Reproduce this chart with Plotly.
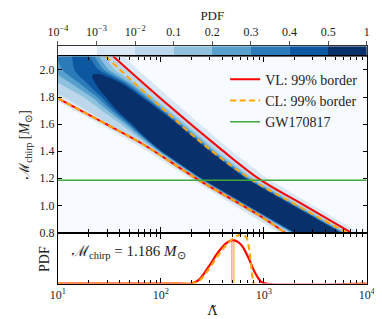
import numpy as np
import plotly.graph_objects as go

# ---------------- data ----------------
# colour levels of the 2-D PDF (colour bar)
pdf_levels = [1e-4, 1e-3, 1e-2, 0.1, 0.2, 0.3, 0.4, 0.5, 1.0]
pdf_level_labels = ["10<sup>−4</sup>", "10<sup>−3</sup>", "10<sup>−2</sup>", "0.1", "0.2",
                    "0.3", "0.4", "0.5", "1"]
band_colors = ["#f7fbff", "#dae8f5", "#bcd7eb", "#8dc1dd", "#57a0ce", "#2c7bb9", "#0d57a1", "#08306b"]

# ridge of the 2-D posterior, one entry per chirp-mass row
ridge_mchirp = [0.75, 0.80, 1.00, 1.20, 1.40, 1.60, 1.80, 1.90, 2.00, 2.10, 2.15]
ridge_peak_lambda = [4169, 3177, 1035, 345, 154, 95, 49.9, 35.7, 20.9, 18.2, 17.0]
ridge_peak_pdf = [10, 10, 10, 10, 10, 2.5, 0.90, 0.62, 0.46, 0.43, 0.42]
ridge_low_lambda = [1820, 1393, 513, 191, 74.1, 25.7, 8.3, 3.55, 1.78, 1.41, 1.32]     # PDF = 1e-3, low side
ridge_high_lambda = [10715, 8375, 3006, 1072, 490, 240, 120, 85, 60, 44, 38]          # PDF = 1e-3, high side

# 99 % borders
vl_upper_mchirp = [2.101, 1.733, 1.421, 1.186, 0.999, 0.801]
vl_upper_lambda = [34.4, 121, 375, 938, 2500, 6970]
vl_lower_mchirp = [1.791, 1.625, 1.457, 1.186, 0.940, 0.800]
vl_lower_lambda = [10.0, 25.5, 65.3, 234, 843, 1600]
cl_upper_mchirp = [2.101, 1.733, 1.421, 1.186, 0.999, 0.801]
cl_upper_lambda = [29.0, 97.7, 290, 774, 2109, 6252]
cl_lower_mchirp = [1.791, 1.625, 1.457, 1.186, 0.940, 0.800]
cl_lower_lambda = [10.0, 25.5, 65.3, 234, 843, 1600]

gw_mchirp = 1.186

# slice PDFs at Mchirp = 1.186 (bottom panel)
vl_slice_lambda = [10, 150, 198, 234, 290, 360, 430, 500, 560, 612, 706, 813, 938, 1045, 10000]
vl_slice_pdf = [0, 0, 0.0, 0.073, 0.335, 0.63, 0.81, 0.876, 0.84, 0.763, 0.53, 0.237, 0.04, 0.0, 0]
cl_slice_lambda = [10, 150, 200, 234, 290, 360, 430, 513, 575, 616, 676, 720, 750, 776, 804, 10000]
cl_slice_pdf = [0, 0, 0.0, 0.05, 0.28, 0.57, 0.77, 0.92, 0.98, 0.99, 0.93, 0.70, 0.40, 0.12, 0.0, 0]
vl_median_lambda = 490
vl_median_pdf = 0.87
cl_median_lambda = 513
cl_median_pdf = 0.89

# ---------------- build the 2-D field from the ridge description ----------------
lx = np.linspace(1.0, 4.0, 361)
my = np.linspace(0.8, 2.1, 261)
fine_m = np.linspace(0.7, 2.2, 301)


def smooth_param(vals, log=False):
    v = np.log10(np.asarray(vals, float)) if log else np.asarray(vals, float)
    f = np.interp(fine_m, ridge_mchirp, v)
    k = 9
    fp = np.pad(f, k // 2, mode="edge")
    f = np.convolve(fp, np.ones(k) / k, mode="valid")
    return np.interp(my, fine_m, f)


mu = smooth_param(ridge_peak_lambda, log=True)
amp = 10 ** smooth_param(ridge_peak_pdf, log=True)
lo = smooth_param(ridge_low_lambda, log=True)
hi = smooth_param(ridge_high_lambda, log=True)
q = np.sqrt(np.log(amp / 1e-3))
sl = (mu - lo) / q
sr = (hi - mu) / q
X = lx[None, :]
d = X - mu[:, None]
s = np.where(d < 0, sl[:, None], sr[:, None])
Z = amp[:, None] * np.exp(-(d / s) ** 2)
band = np.interp(np.log10(np.clip(Z, 1e-9, None)), np.log10(pdf_levels), np.arange(len(pdf_levels)))

step_scale = []
for i, c in enumerate(band_colors):
    step_scale.append([i / 8, c])
    step_scale.append([(i + 1) / 8, c])

# ---------------- figure ----------------
W, H = 382, 319
xdom = [42 / W, 367 / W]
FONT = "Liberation Serif"
RED = "#ff0000"
ORANGE = "#ffa500"
GREEN = "#3fa83f"
TXT = "#222"

fig = go.Figure()

# colour bar drawn as a heatmap strip
fig.add_trace(go.Heatmap(x=[i + 0.5 for i in range(8)], y=[0.5], z=[[i + 0.5 for i in range(8)]],
                         zmin=0, zmax=8, colorscale=step_scale, showscale=False,
                         xaxis="x", yaxis="y", hoverinfo="skip"))

# 2-D PDF
fig.add_trace(go.Contour(x=10 ** lx, y=my, z=band, zmin=0, zmax=8, colorscale=step_scale,
                         autocontour=False,
                         contours=dict(start=1, end=7, size=1, coloring="fill", showlines=False),
                         line=dict(width=0), showscale=False, xaxis="x2", yaxis="y2",
                         hoverinfo="skip"))

DASH = "6px,3.5px"
fig.add_trace(go.Scatter(x=vl_upper_lambda, y=vl_upper_mchirp, mode="lines", line_shape="spline",
                         line=dict(color=RED, width=2), name="VL: 99% border",
                         xaxis="x2", yaxis="y2", legendrank=1))
fig.add_trace(go.Scatter(x=vl_lower_lambda, y=vl_lower_mchirp, mode="lines", line_shape="spline",
                         line=dict(color=RED, width=2), showlegend=False,
                         xaxis="x2", yaxis="y2"))
fig.add_trace(go.Scatter(x=cl_upper_lambda, y=cl_upper_mchirp, mode="lines", line_shape="spline",
                         line=dict(color=ORANGE, width=2, dash=DASH), name="CL: 99% border",
                         xaxis="x2", yaxis="y2", legendrank=2))
fig.add_trace(go.Scatter(x=cl_lower_lambda, y=cl_lower_mchirp, mode="lines", line_shape="spline",
                         line=dict(color=ORANGE, width=2, dash=DASH), showlegend=False,
                         xaxis="x2", yaxis="y2"))
fig.add_trace(go.Scatter(x=[10, 10000], y=[gw_mchirp, gw_mchirp], mode="lines",
                         line=dict(color=GREEN, width=1.5), name="GW170817",
                         xaxis="x2", yaxis="y2", legendrank=3))

# bottom panel
fig.add_trace(go.Scatter(x=[vl_median_lambda, vl_median_lambda], y=[0, vl_median_pdf], mode="lines",
                         line=dict(color="rgba(255,0,0,0.55)", width=1), showlegend=False,
                         xaxis="x3", yaxis="y3"))
fig.add_trace(go.Scatter(x=[cl_median_lambda, cl_median_lambda], y=[0, cl_median_pdf], mode="lines",
                         line=dict(color=ORANGE, width=1), showlegend=False,
                         xaxis="x3", yaxis="y3"))
fig.add_trace(go.Scatter(x=vl_slice_lambda, y=vl_slice_pdf, mode="lines", line_shape="spline",
                         line=dict(color=RED, width=2.2), showlegend=False,
                         xaxis="x3", yaxis="y3"))
fig.add_trace(go.Scatter(x=cl_slice_lambda, y=cl_slice_pdf, mode="lines", line_shape="spline",
                         line=dict(color=ORANGE, width=2.2, dash=DASH), showlegend=False,
                         xaxis="x3", yaxis="y3"))

tickfont = dict(family=FONT, size=12, color=TXT)
axis_common = dict(showline=True, linecolor="black", linewidth=1.2, mirror="ticks",
                   ticks="inside", tickcolor="black", showgrid=False, zeroline=False,
                   tickfont=tickfont)

fig.update_layout(
    width=W, height=H, margin=dict(l=0, r=0, t=0, b=0),
    paper_bgcolor="white", plot_bgcolor="white",
    font=dict(family=FONT, size=12, color=TXT),
    showlegend=True,
    legend=dict(x=218 / W, y=1 - 57 / H, xanchor="left", yanchor="top",
                bgcolor="rgba(0,0,0,0)", font=dict(family=FONT, size=14, color=TXT),
                tracegroupgap=0, itemwidth=30),
    xaxis=dict(domain=xdom, anchor="y", range=[0, 8], side="top",
               tickvals=list(range(9)), ticktext=pdf_level_labels,
               ticks="outside", ticklen=4, tickcolor="#555", showline=True, mirror=True,
               linecolor="#333", linewidth=1, showgrid=False, zeroline=False, tickfont=tickfont,
               title=dict(text="PDF", font=dict(family=FONT, size=13, color=TXT), standoff=2)),
    yaxis=dict(domain=[1 - 49 / H, 1 - 39 / H], anchor="x", range=[0, 1], showticklabels=False,
               ticks="", showline=True, mirror=True, linecolor="#333", linewidth=1,
               showgrid=False, zeroline=False),
    xaxis2=dict(domain=xdom, anchor="y2", type="log", range=[1, 4], showticklabels=False,
                ticklen=5, dtick=1,
                minor=dict(ticks="inside", ticklen=3, dtick="D1", tickcolor="black", showgrid=False),
                **axis_common),
    yaxis2=dict(domain=[1 - 229.5 / H, 1 - 49.5 / H], anchor="x2", range=[0.8, 2.1],
                tickvals=[0.8, 1.0, 1.2, 1.4, 1.6, 1.8, 2.0],
                ticktext=["0.8", "1.0", "1.2", "1.4", "1.6", "1.8", "2.0"], ticklen=4,
                title=dict(text="ℳ<sub>chirp</sub> [<i>M</i><sub>⊙</sub>]",
                           font=dict(family=FONT, size=14, color=TXT), standoff=6),
                **axis_common),
    xaxis3=dict(domain=xdom, anchor="y3", type="log", range=[1, 4],
                tickvals=[10, 100, 1000, 10000],
                ticktext=["10<sup>1</sup>", "10<sup>2</sup>", "10<sup>3</sup>", "10<sup>4</sup>"],
                ticklen=5,
                minor=dict(ticks="inside", ticklen=3, dtick="D1", tickcolor="black", showgrid=False),
                title=dict(text="Λ̃", font=dict(family="DejaVu Serif", size=13, color=TXT), standoff=4),
                **axis_common),
    yaxis3=dict(domain=[1 - 281.7 / H, 1 - 231 / H], anchor="x3", range=[0, 1.0],
                showticklabels=False, showline=True, linecolor="black", linewidth=1.2, mirror=True,
                ticks="", showgrid=False, zeroline=False),
    annotations=[
        dict(text="ℳ<sub>chirp</sub> = 1.186 <i>M</i><sub>⊙</sub>", xref="paper", yref="paper",
             x=54 / W, y=1 - 249 / H, xanchor="left", yanchor="middle", showarrow=False,
             font=dict(family=FONT, size=15, color=TXT)),
        dict(text="PDF", xref="paper", yref="paper", x=28 / W, y=1 - 257 / H,
             xanchor="center", yanchor="middle", textangle=-90, showarrow=False,
             font=dict(family=FONT, size=14, color=TXT)),
    ],
)

fig.write_html("out.html")
